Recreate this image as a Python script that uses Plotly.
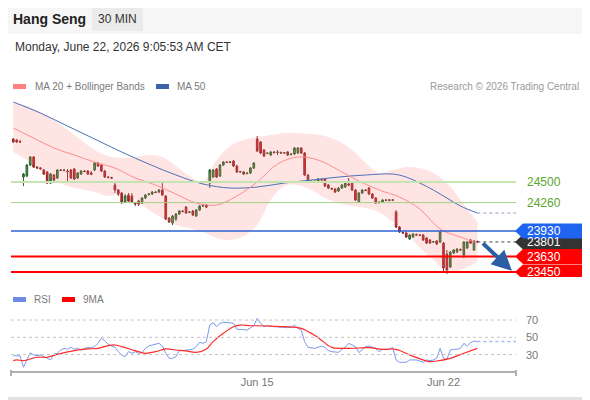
import plotly.graph_objects as go

# --- price data (30 min bars, index 0 = first bar shown) ---
opens = [25002, 24990, 24972, 24558, 24570, 24698, 24792, 24675, 24665, 24640,
         24617, 24488, 24582, 24547, 24640, 24635, 24628, 24640, 24652, 24547,
         24593, 24628, 24628, 24605, 24640, 24722, 24698, 24628, 24558, 24552,
         24465, 24407, 24372, 24267, 24348, 24337, 24255, 24278, 24255, 24313,
         24355, 24360, 24383, 24383, 24407, 24337, 24080, 24022, 24068, 24127,
         24162, 24208, 24145, 24162, 24103, 24173, 24220, 24232, 24488, 24558,
         24652, 24570, 24698, 24733, 24728, 24745, 24687, 24617, 24617, 24598,
         24605, 24663, 25002, 24967, 24873, 24833, 24815, 24850, 24845, 24845,
         24838, 24850, 24820, 24827, 24838, 24897, 24838, 24582, 24505, 24510,
         24500, 24530, 24535, 24465, 24425, 24418, 24395, 24430, 24442, 24477,
         24488, 24407, 24267, 24372, 24407, 24430, 24360, 24313, 24260, 24267,
         24290, 24285, 24292, 24150, 23975, 23912, 23905, 23835, 23858, 23888,
         23882, 23882, 23847, 23823, 23800, 23812, 23800, 23788, 23660, 23508,
         23672, 23683, 23712, 23648, 23730, 23823, 23707, 23805]
highs = [25013, 25002, 24990, 24605, 24710, 24803, 24803, 24687, 24675, 24652,
         24628, 24605, 24593, 24652, 24652, 24648, 24652, 24652, 24663, 24617,
         24640, 24640, 24640, 24628, 24733, 24733, 24710, 24640, 24570, 24560,
         24500, 24418, 24383, 24360, 24372, 24372, 24267, 24290, 24325, 24360,
         24372, 24395, 24395, 24418, 24488, 24348, 24092, 24115, 24138, 24173,
         24173, 24220, 24162, 24173, 24185, 24232, 24235, 24243, 24652, 24652,
         24663, 24710, 24745, 24745, 24745, 24757, 24700, 24630, 24628, 24612,
         24675, 24733, 25037, 24978, 24885, 24845, 24862, 24862, 24873, 24855,
         24850, 24862, 24832, 24908, 24908, 24908, 24850, 24593, 24518, 24520,
         24547, 24540, 24547, 24477, 24435, 24430, 24442, 24477, 24500, 24547,
         24500, 24418, 24383, 24418, 24418, 24442, 24372, 24325, 24272, 24302,
         24302, 24298, 24302, 24173, 23987, 23925, 23917, 23893, 23905, 23898,
         23893, 23893, 23858, 23835, 23812, 23823, 23928, 23800, 23707, 23695,
         23718, 23730, 23725, 23812, 23812, 23835, 23823, 23818]
lows = [24955, 24955, 24955, 24453, 24558, 24687, 24663, 24652, 24640, 24582,
        24477, 24477, 24512, 24535, 24628, 24625, 24488, 24535, 24523, 24535,
        24582, 24617, 24582, 24580, 24628, 24675, 24617, 24547, 24545, 24535,
        24372, 24337, 24243, 24255, 24267, 24255, 24220, 24220, 24243, 24302,
        24340, 24348, 24372, 24372, 24337, 24057, 24022, 23998, 24045, 24115,
        24150, 24127, 24138, 24103, 24092, 24162, 24208, 24197, 24430, 24547,
        24547, 24558, 24687, 24722, 24718, 24675, 24605, 24605, 24582, 24590,
        24593, 24652, 24850, 24827, 24792, 24825, 24803, 24835, 24815, 24830,
        24827, 24803, 24810, 24815, 24827, 24827, 24570, 24488, 24495, 24498,
        24488, 24515, 24442, 24418, 24410, 24372, 24383, 24418, 24430, 24453,
        24395, 24278, 24255, 24360, 24395, 24348, 24302, 24243, 24248, 24255,
        24278, 24275, 24280, 23963, 23905, 23898, 23847, 23823, 23847, 23875,
        23870, 23812, 23777, 23777, 23788, 23765, 23788, 23450, 23427, 23497,
        23660, 23672, 23698, 23613, 23718, 23777, 23695, 23795]
closes = [24967, 24967, 24968, 24593, 24698, 24792, 24675, 24665, 24655, 24593,
          24488, 24593, 24523, 24640, 24635, 24640, 24620, 24547, 24535, 24605,
          24628, 24622, 24593, 24590, 24722, 24687, 24628, 24558, 24552, 24545,
          24407, 24360, 24267, 24337, 24278, 24267, 24245, 24243, 24313, 24348,
          24362, 24383, 24378, 24407, 24348, 24068, 24033, 24103, 24127, 24162,
          24155, 24138, 24150, 24115, 24173, 24220, 24228, 24208, 24640, 24640,
          24558, 24698, 24733, 24728, 24735, 24687, 24617, 24622, 24593, 24605,
          24663, 24722, 24862, 24838, 24803, 24838, 24850, 24843, 24850, 24838,
          24843, 24815, 24827, 24897, 24897, 24838, 24582, 24500, 24510, 24505,
          24535, 24525, 24453, 24430, 24418, 24383, 24430, 24465, 24488, 24465,
          24407, 24290, 24372, 24407, 24400, 24360, 24313, 24255, 24265, 24290,
          24285, 24292, 24288, 23975, 23917, 23905, 23858, 23882, 23893, 23882,
          23878, 23823, 23788, 23788, 23805, 23777, 23917, 23497, 23473, 23683,
          23707, 23718, 23707, 23800, 23800, 23788, 23812, 23801]
bars = list(range(len(closes)))

# moving averages / bollinger, read at sampled bars
ma20_idx = [0, 6, 12, 18, 24, 30, 36, 42, 48, 54, 60, 66, 72, 78, 84, 90, 96, 102, 108, 114, 120, 126, 132, 137]
ma20_val = [25130, 25013, 24897, 24815, 24733, 24663, 24547, 24465, 24360, 24255, 24232, 24337,
            24500, 24710, 24792, 24757, 24640, 24512, 24407, 24325, 24185, 23952, 23858, 23788]
ma50_idx = [0, 8, 16, 24, 32, 40, 48, 56, 64, 72, 80, 88, 96, 104, 112, 116, 120, 124, 128, 132, 137]
ma50_val = [25433, 25305, 25153, 25002, 24850, 24710, 24582, 24477, 24430, 24442, 24488, 24523,
            24558, 24582, 24593, 24558, 24488, 24407, 24313, 24220, 24138]
bb_idx = [0, 4, 8, 12, 16, 20, 24, 28, 32, 36, 40, 44, 48, 52, 56, 60, 64, 68, 72, 76, 80, 84,
          88, 92, 96, 100, 104, 108, 112, 116, 120, 124, 128, 132, 137]
bb_upper = [25422, 25387, 25317, 25223, 25107, 24990, 24873, 24803, 24780, 24792, 24815, 24792,
            24687, 24570, 24500, 24757, 24920, 24990, 25025, 25048, 25072, 25072, 25060, 25037,
            24978, 24873, 24722, 24605, 24640, 24675, 24663, 24605, 24488, 24290, 24033]
bb_lower = [24850, 24757, 24640, 24523, 24453, 24418, 24383, 24337, 24360, 24290, 24173, 24080,
            23998, 23963, 23917, 23847, 23823, 23870, 23998, 24290, 24453, 24465, 24407, 24313,
            24255, 24220, 24197, 24150, 24033, 23905, 23730, 23590, 23450, 23473, 23567]

# RSI panel
rsi_idx = [0, 2, 3, 4, 5, 6, 7, 8, 9, 11, 12, 13, 14, 15, 16, 17, 18, 19, 20, 21, 22, 23, 24, 25,
           26, 27, 28, 29, 30, 31, 32, 33, 34, 35, 36, 37, 38, 39, 40, 41, 42, 43, 44, 45, 46, 47,
           48, 49, 50, 51, 52, 53, 54, 55, 56, 57, 58, 59, 60, 61, 62, 63, 64, 65, 66, 67, 68, 69,
           70, 71, 72, 73, 74, 75, 77, 78, 80, 81, 82, 83, 84, 85, 86, 87, 89, 91, 92, 93, 94, 96,
           97, 98, 99, 100, 101, 102, 103, 104, 105, 106, 107, 108, 109, 110, 111, 112, 113, 114,
           115, 116, 117, 118, 119, 120, 121, 122, 123, 124, 125, 126, 127, 128, 129, 130, 131,
           132, 133, 134, 135, 136, 137]
rsi_val = [28.8, 28.4, 15.3, 23.8, 32.2, 29.6, 28.8, 29.6, 27.6, 23.8, 30.7, 31.5, 35.3, 37.2,
           36.1, 38.4, 36.1, 37.2, 35.3, 37.2, 38.4, 38.0, 39.2, 43.0, 48.8, 46.1, 41.9, 39.9,
           38.4, 33.4, 29.6, 27.6, 33.4, 31.5, 33.4, 31.5, 32.2, 37.2, 39.9, 41.1, 41.9, 43.0,
           39.9, 31.5, 25.7, 25.7, 27.6, 34.6, 34.6, 35.3, 35.3, 36.1, 39.2, 44.2, 43.0, 45.0,
           64.2, 66.9, 62.3, 66.2, 67.3, 67.3, 66.9, 66.2, 59.2, 59.2, 58.4, 58.4, 61.0, 63.4,
           71.9, 66.2, 62.3, 63.4, 62.3, 62.3, 61.5, 61.1, 61.5, 64.2, 60.4, 58.4, 45.0, 38.4,
           37.2, 39.9, 38.4, 34.6, 33.4, 32.6, 36.1, 38.4, 43.0, 41.1, 39.2, 32.2, 36.1, 39.2,
           39.9, 38.4, 37.2, 33.4, 36.1, 36.1, 36.1, 38.4, 23.8, 21.1, 20.7, 21.1, 23.8, 23.8,
           23.8, 22.6, 21.1, 23.8, 23.0, 23.8, 25.7, 37.2, 25.7, 24.5, 35.3, 36.1, 36.1, 37.2,
           43.0, 39.9, 43.8, 45.7, 45.0]
ma9_idx = [0, 1, 3, 7, 10, 13, 18, 22, 25, 28, 30, 32, 36, 39, 42, 45, 48, 51, 54, 57, 59, 62,
           65, 67, 70, 72, 75, 80, 85, 90, 94, 99, 105, 109, 113, 117, 121, 123, 125, 129, 133, 137]
ma9_val = [23.0, 23.8, 23.0, 26.9, 26.9, 30.3, 34.6, 36.5, 37.2, 40.3, 41.1, 39.2, 34.6, 31.5,
           33.4, 36.5, 35.3, 34.2, 32.6, 36.5, 45.0, 54.6, 62.3, 64.2, 63.4, 63.4, 63.1, 62.3,
           60.4, 49.6, 38.4, 37.2, 38.0, 36.1, 36.1, 29.6, 23.8, 21.8, 22.6, 25.7, 31.5, 37.2]
rsi_levels = [70, 50, 30]

# key levels on the right
resistances = [24500, 24260]
pivot = 23930
supports = [23630, 23450]
last_price = closes[-1]

tick_pos = [72, 127]
tick_text = ["Jun 15", "Jun 22"]

# the page body keeps an 8px margin, so the figure is laid out 8px in
OFF = 8
W, H = 590 - OFF, 400 - OFF
X_MAX = 148.4
PRICE_RANGE = [23392, 25492]


def px(x):
    return (x - OFF) / W


def py(y):
    return 1 - (y - OFF) / H


fig = go.Figure()

# bollinger band
fig.add_trace(go.Scatter(x=bb_idx, y=bb_upper, mode="lines", line=dict(width=0, shape="spline"),
                         hoverinfo="skip", yaxis="y"))
fig.add_trace(go.Scatter(x=bb_idx, y=bb_lower, mode="lines", line=dict(width=0, shape="spline"),
                         fill="tonexty", fillcolor="rgba(255,120,120,0.2)", hoverinfo="skip", yaxis="y"))
fig.add_trace(go.Scatter(x=ma50_idx, y=ma50_val, mode="lines",
                         line=dict(color="#4a72b8", width=1, shape="spline"), yaxis="y"))
fig.add_trace(go.Scatter(x=ma20_idx, y=ma20_val, mode="lines",
                         line=dict(color="#ff8c8c", width=1, shape="spline"), yaxis="y"))
# dotted projections to the right edge
fig.add_trace(go.Scatter(x=[bars[-1], X_MAX], y=[ma50_val[-1], ma50_val[-1]], mode="lines",
                         line=dict(color="#8a9ab8", width=1, dash="dot"), yaxis="y"))
fig.add_trace(go.Scatter(x=[bars[-1], X_MAX], y=[last_price, last_price], mode="lines",
                         line=dict(color="#444444", width=1, dash="dot"), yaxis="y"))

fig.add_trace(go.Candlestick(
    x=bars, open=opens, high=highs, low=lows, close=closes,
    increasing=dict(line=dict(color="#2f5f2f", width=1), fillcolor="#3a9a3a"),
    decreasing=dict(line=dict(color="#8a2a2a", width=1), fillcolor="#e8141a"),
    whiskerwidth=0, yaxis="y"))

# RSI + 9MA
fig.add_trace(go.Scatter(x=rsi_idx, y=rsi_val, mode="lines",
                         line=dict(color="#7b98ea", width=1), yaxis="y2"))
fig.add_trace(go.Scatter(x=[rsi_idx[-1], X_MAX], y=[rsi_val[-1], rsi_val[-1]], mode="lines",
                         line=dict(color="#a9bcf0", width=1.5, dash="dot"), yaxis="y2"))
fig.add_trace(go.Scatter(x=ma9_idx, y=ma9_val, mode="lines",
                         line=dict(color="#ff2a2a", width=1.2, shape="spline"), yaxis="y2"))

shapes = []
# header band, badge and frame edges
shapes.append(dict(type="rect", xref="paper", yref="paper", x0=0, x1=1, y0=py(34), y1=1,
                   fillcolor="#f6f6f6", line=dict(width=0), layer="below"))
shapes.append(dict(type="rect", xref="paper", yref="paper", x0=px(92), x1=px(143), y0=py(31), y1=py(8),
                   fillcolor="#ebebeb", line=dict(width=0), layer="below"))
shapes.append(dict(type="line", xref="paper", yref="paper", x0=0, x1=1, y0=py(398.5), y1=py(398.5),
                   line=dict(color="#e2e2e2", width=3)))
shapes.append(dict(type="line", xref="paper", yref="paper", x0=px(588.5), x1=px(588.5), y0=0, y1=1,
                   line=dict(color="#e2e2e2", width=3)))
# legend swatches
for x0, y0, col in [(13, 84, "#ff8080"), (156, 84, "#3a62a6"), (13, 297, "#6c8ce8"), (62, 297, "#ff0000")]:
    shapes.append(dict(type="rect", xref="paper", yref="paper", x0=px(x0), x1=px(x0 + 13),
                       y0=py(y0 + 5), y1=py(y0), fillcolor=col, line=dict(width=0)))

# level lines
shapes.append(dict(type="line", xref="x domain", yref="y", x0=0, x1=1, y0=resistances[0], y1=resistances[0],
                   line=dict(color="#c6e4b2", width=2)))
shapes.append(dict(type="line", xref="x domain", yref="y", x0=0, x1=1, y0=resistances[1], y1=resistances[1],
                   line=dict(color="#a3d184", width=1)))
shapes.append(dict(type="line", xref="x domain", yref="y", x0=0, x1=1, y0=pivot, y1=pivot,
                   line=dict(color="#2d5fd4", width=1.5)))
for s in supports:
    shapes.append(dict(type="line", xref="x domain", yref="y", x0=0, x1=1, y0=s, y1=s,
                       line=dict(color="#ff0000", width=2)))

# RSI reference lines
for lv in rsi_levels:
    shapes.append(dict(type="line", xref="x domain", yref="y2", x0=0, x1=1, y0=lv, y1=lv,
                       line=dict(color="#c4c4c4", width=1, dash="dot")))

# axis end caps
for xd in [0, 1]:
    shapes.append(dict(type="line", xref="x domain", yref="paper", x0=xd, x1=xd, y0=py(376), y1=py(370),
                       line=dict(color="#b0b0b0", width=2)))

# right-hand price tags (box with a notch)
unit = (PRICE_RANGE[1] - PRICE_RANGE[0]) / 180.0
half = 7.5 * unit
annotations = []
for lvl, col in [(last_price, "#333333"), (pivot, "#1f64ef"), (supports[0], "#ff0000"), (supports[1], "#ff0000")]:
    path = "M {a},{t} L {b},{t} L {b},{bt} L {a},{bt} L {n},{m} Z".format(
        a=px(523), b=px(586), n=px(515), t=lvl + half, bt=lvl - half, m=lvl)
    shapes.append(dict(type="path", xref="paper", yref="y", path=path, fillcolor=col, line=dict(width=0)))
    annotations.append(dict(x=px(525), y=lvl, xref="paper", yref="y", text=str(lvl), showarrow=False,
                            xanchor="left", yanchor="middle", font=dict(color="white", size=12)))
for lvl in resistances:
    annotations.append(dict(x=px(525), y=lvl, xref="paper", yref="y", text=str(lvl), showarrow=False,
                            xanchor="left", yanchor="middle", font=dict(color="#5aa52a", size=12)))

for lv in rsi_levels:
    annotations.append(dict(x=px(524), y=lv, xref="paper", yref="y2", text=str(lv), showarrow=False,
                            xanchor="left", yanchor="middle", font=dict(color="#777777", size=11)))

# forecast arrow towards the last support
annotations.append(dict(x=bars[-1] + 10.2, y=supports[-1] + 15, ax=bars[-1] + 1.2, ay=last_price,
                        xref="x", yref="y", axref="x", ayref="y", text="", showarrow=True,
                        arrowhead=2, arrowsize=1, arrowwidth=4, arrowcolor="#2c5ea6"))

# header and legend text
annotations += [
    dict(x=px(11), y=py(19), text="<b>Hang Seng</b>", font=dict(size=14, color="#222222")),
    dict(x=px(117.5), y=py(19.5), text="30 MIN", xanchor="center", font=dict(size=12, color="#333333")),
    dict(x=px(13), y=py(47), text="Monday, June 22, 2026 9:05:53 AM CET", font=dict(size=12, color="#333333")),
    dict(x=px(33), y=py(86), text="MA 20 + Bollinger Bands", font=dict(size=10, color="#7a7a7a")),
    dict(x=px(175), y=py(86), text="MA 50", font=dict(size=10, color="#7a7a7a")),
    dict(x=px(581), y=py(86), text="Research © 2026 Trading Central", xanchor="right",
         font=dict(size=10, color="#9a9a9a")),
    dict(x=px(32), y=py(299), text="RSI", font=dict(size=10, color="#7a7a7a")),
    dict(x=px(81), y=py(299), text="9MA", font=dict(size=10, color="#7a7a7a")),
]
for a in annotations[-8:]:
    a.update(xref="paper", yref="paper", showarrow=False, yanchor="middle")
    a.setdefault("xanchor", "left")

fig.update_layout(
    width=W, height=H,
    margin=dict(l=0, r=0, t=0, b=0),
    paper_bgcolor="white", plot_bgcolor="white",
    showlegend=False,
    font=dict(family="Arial, Liberation Sans, sans-serif"),
    xaxis=dict(domain=[px(11), px(516)], range=[-0.68, X_MAX], anchor="y2",
               rangeslider=dict(visible=False), showgrid=False, zeroline=False,
               showline=True, linecolor="#b0b0b0", linewidth=2, ticks="",
               tickvals=tick_pos, ticktext=tick_text, tickfont=dict(size=11, color="#777777")),
    yaxis=dict(domain=[py(277), py(97)], range=PRICE_RANGE, visible=False, showgrid=False),
    yaxis2=dict(domain=[py(371), py(310)], range=[11, 81.6], visible=False, showgrid=False),
    shapes=shapes,
    annotations=annotations,
)

fig.write_html("out.html")
